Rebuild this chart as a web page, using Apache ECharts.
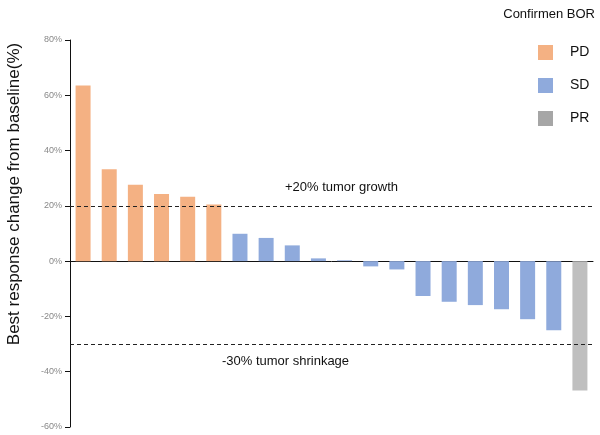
<!DOCTYPE html>
<html>
<head>
<meta charset="utf-8">
<script src="https://cdn.jsdelivr.net/npm/echarts@6/dist/echarts.min.js"></script>
<style>html,body{margin:0;padding:0;background:#fff;}#c{width:600px;height:435px;}</style>
</head>
<body>
<div id="c"></div>
<script>
var patients = ['P1','P2','P3','P4','P5','P6','P7','P8','P9','P10','P11','P12','P13','P14','P15','P16','P17','P18','P19','P20'];
var bestChange = [63.5, 33.2, 27.6, 24.3, 23.3, 20.5, 9.9, 8.4, 5.7, 1.0, 0.3, -1.9, -3.0, -12.6, -14.7, -15.9, -17.4, -21.0, -25.0, -46.8];
var bor = ['PD','PD','PD','PD','PD','PD','SD','SD','SD','SD','SD','SD','SD','SD','SD','SD','SD','SD','SD','PR'];
var groups = ['PD','SD','PR'];
var barColors = {PD:'#F4B183', SD:'#8FAADC', PR:'#BFBFBF'};
var legendColors = {PD:'#F4B183', SD:'#8FAADC', PR:'#A6A6A6'};
var yTicks = [-60, -40, -20, 0, 20, 40, 60, 80];
var growthLine = 20, shrinkLine = -30;

var chart = echarts.init(document.getElementById('c'));
var series = groups.map(function (g, gi) {
  var s = {
    name: g, type: 'bar', stack: 'all', barWidth: 15,
    itemStyle: {color: barColors[g]},
    data: bestChange.map(function (v, i) { return bor[i] === g ? v : '-'; })
  };
  if (gi === 0) {
    s.markLine = {
      silent: true, symbol: 'none',
      lineStyle: {color: '#222', type: [4, 3], width: 1.2},
      data: [
        {yAxis: growthLine, label: {show: true, position: 'insideMiddleTop', formatter: '+20% tumor growth', color: '#111', fontSize: 13, fontFamily: 'Liberation Sans', offset: [10, -7]}},
        {yAxis: shrinkLine, label: {show: true, position: 'insideMiddleBottom', formatter: '-30% tumor shrinkage', color: '#111', fontSize: 13, fontFamily: 'Liberation Sans', offset: [-46, 6]}}
      ]
    };
  }
  return s;
});

chart.setOption({
  animation: false,
  textStyle: {fontFamily: 'Liberation Sans'},
  grid: {left: 70, right: 7, top: 40, bottom: 8},
  title: {text: 'Confirmen BOR', right: 0, top: 3, textStyle: {fontSize: 13, fontWeight: 'normal', color: '#111', fontFamily: 'Liberation Sans'}},
  legend: {
    orient: 'vertical', left: 538, top: 45, padding: 0, itemWidth: 15, itemHeight: 15, itemGap: 18,
    icon: 'rect',
    textStyle: {fontSize: 14, color: '#111', padding: [0, 0, 0, 12]},
    data: groups.map(function (g) { return {name: g, itemStyle: {color: legendColors[g]}}; })
  },
  xAxis: {
    type: 'category', data: patients,
    axisLine: {show: true, onZero: true, lineStyle: {color: '#111', width: 1}},
    axisTick: {show: false}, axisLabel: {show: false}
  },
  yAxis: {
    type: 'value', min: yTicks[0], max: yTicks[yTicks.length - 1], interval: 20,
    splitLine: {show: false},
    axisLine: {show: true, lineStyle: {color: '#111', width: 1}},
    axisTick: {show: true, length: 5, lineStyle: {color: '#111'}},
    axisLabel: {color: '#888', fontSize: 9, margin: 8, formatter: '{value}%'}
  },
  graphic: [{
    type: 'text', x: 14, y: 194, rotation: Math.PI / 2,
    style: {text: 'Best response change from baseline(%)', fontSize: 17, fill: '#111', fontFamily: 'Liberation Sans', textAlign: 'center', textVerticalAlign: 'middle'}
  }],
  series: series
});
</script>
</body>
</html>
